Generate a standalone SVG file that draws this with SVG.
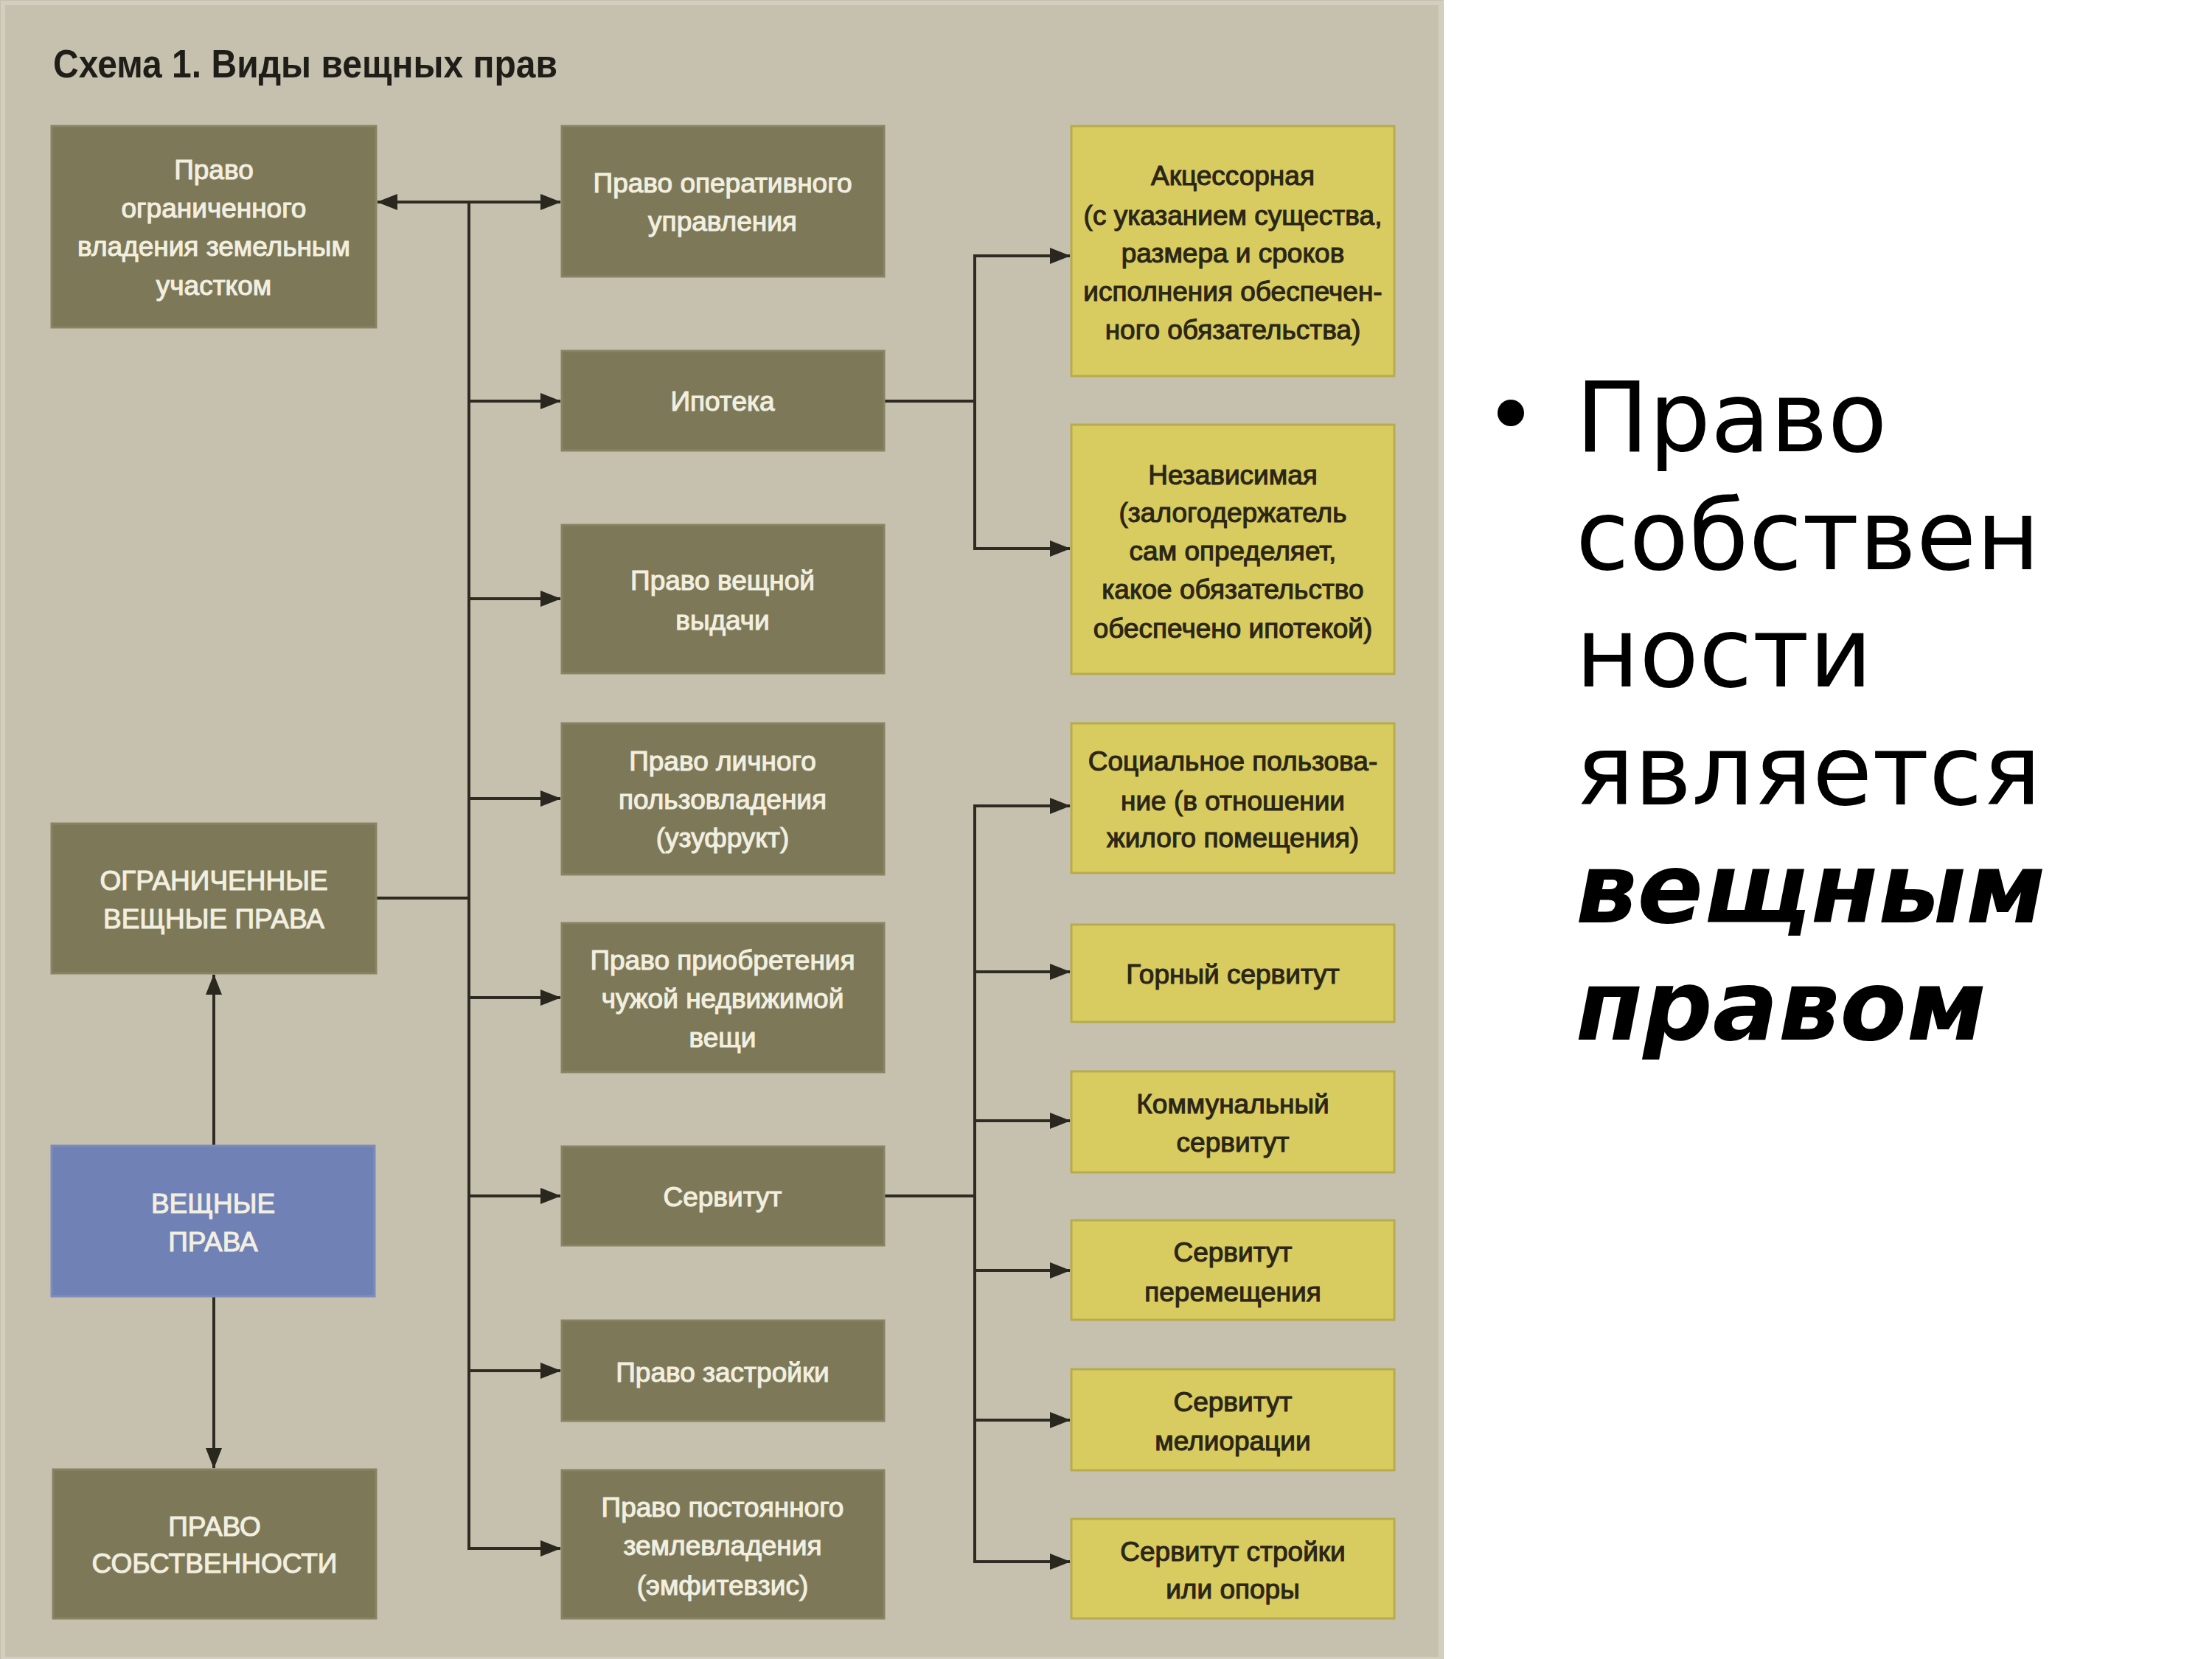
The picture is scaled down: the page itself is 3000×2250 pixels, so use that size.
<svg xmlns="http://www.w3.org/2000/svg" width="3000" height="2250" viewBox="0 0 3000 2250">
<defs>
<style>
.panel{fill:#c6c1ae}
.olive{fill:#7d7958;stroke:#888463;stroke-width:3}
.blue{fill:#7081b6;stroke:#7c8cbd;stroke-width:3}
.yellow{fill:#d8cc60;stroke:#b7ab4e;stroke-width:3}
.lt{font-family:"Liberation Sans",Arial,sans-serif;font-size:37px;fill:#f2efe0;stroke:#f2efe0;stroke-width:1.1;text-anchor:middle}
.dt{font-family:"Liberation Sans",Arial,sans-serif;font-size:37px;fill:#2b2616;stroke:#2b2616;stroke-width:1.1;text-anchor:middle}
.title{font-family:"Liberation Sans",Arial,sans-serif;font-size:54px;font-weight:bold;fill:#1e1d18}
.conn{fill:none;stroke:#2e2b22;stroke-width:4}
.big{font-family:"DejaVu Sans",sans-serif;font-size:132px;fill:#000}
.bigb{font-family:"DejaVu Sans",sans-serif;font-size:132px;fill:#000;font-weight:bold;font-style:italic}
</style>
<marker id="ah" markerUnits="userSpaceOnUse" markerWidth="28" markerHeight="22" refX="27" refY="11" orient="auto-start-reverse">
<path d="M0,0 L28,11 L0,22 z" fill="#2a271e"/>
</marker>
</defs>
<rect x="0" y="0" width="3000" height="2250" fill="#ffffff"/>
<rect class="panel" x="0" y="0" width="1958" height="2250"/>
<rect x="4" y="4" width="1950" height="2246" fill="none" stroke="#d3cfc0" stroke-width="6"/>
<text class="title" x="72" y="105" textLength="684" lengthAdjust="spacingAndGlyphs">Схема 1. Виды вещных прав</text>

<g id="connectors">
<line class="conn" x1="512" y1="274" x2="760" y2="274" marker-start="url(#ah)" marker-end="url(#ah)"/>
<line class="conn" x1="636" y1="274" x2="636" y2="2100"/>
<line class="conn" x1="636" y1="544" x2="760" y2="544" marker-end="url(#ah)"/>
<line class="conn" x1="636" y1="812" x2="760" y2="812" marker-end="url(#ah)"/>
<line class="conn" x1="636" y1="1083" x2="760" y2="1083" marker-end="url(#ah)"/>
<line class="conn" x1="636" y1="1353" x2="760" y2="1353" marker-end="url(#ah)"/>
<line class="conn" x1="636" y1="1622" x2="760" y2="1622" marker-end="url(#ah)"/>
<line class="conn" x1="636" y1="1859" x2="760" y2="1859" marker-end="url(#ah)"/>
<line class="conn" x1="634" y1="2100" x2="760" y2="2100" marker-end="url(#ah)"/>
<line class="conn" x1="510" y1="1218" x2="636" y2="1218"/>
<line class="conn" x1="290" y1="1554" x2="290" y2="1322" marker-end="url(#ah)"/>
<line class="conn" x1="290" y1="1758" x2="290" y2="1991" marker-end="url(#ah)"/>
<line class="conn" x1="1199" y1="544" x2="1322" y2="544"/>
<line class="conn" x1="1322" y1="347" x2="1322" y2="744"/>
<line class="conn" x1="1320" y1="347" x2="1451" y2="347" marker-end="url(#ah)"/>
<line class="conn" x1="1320" y1="744" x2="1451" y2="744" marker-end="url(#ah)"/>
<line class="conn" x1="1199" y1="1622" x2="1322" y2="1622"/>
<line class="conn" x1="1322" y1="1093" x2="1322" y2="2118"/>
<line class="conn" x1="1320" y1="1093" x2="1451" y2="1093" marker-end="url(#ah)"/>
<line class="conn" x1="1322" y1="1318" x2="1451" y2="1318" marker-end="url(#ah)"/>
<line class="conn" x1="1322" y1="1520" x2="1451" y2="1520" marker-end="url(#ah)"/>
<line class="conn" x1="1322" y1="1723" x2="1451" y2="1723" marker-end="url(#ah)"/>
<line class="conn" x1="1322" y1="1926" x2="1451" y2="1926" marker-end="url(#ah)"/>
<line class="conn" x1="1320" y1="2118" x2="1451" y2="2118" marker-end="url(#ah)"/>
</g>

<g id="n-ogr-vladenie">
<rect class="olive" x="70" y="171" width="440" height="273"/>
<text class="lt" x="290" y="243">Право</text>
<text class="lt" x="290" y="295">ограниченного</text>
<text class="lt" x="290" y="347">владения земельным</text>
<text class="lt" x="290" y="400">участком</text>
</g>
<g id="n-ogr-veshnye">
<rect class="olive" x="70" y="1117" width="440" height="203"/>
<text class="lt" x="290" y="1207">ОГРАНИЧЕННЫЕ</text>
<text class="lt" x="290" y="1259">ВЕЩНЫЕ ПРАВА</text>
</g>
<g id="n-veshnye">
<rect class="blue" x="70" y="1554" width="438" height="204"/>
<text class="lt" x="289" y="1645">ВЕЩНЫЕ</text>
<text class="lt" x="289" y="1697">ПРАВА</text>
</g>
<g id="n-sobstv">
<rect class="olive" x="72" y="1993" width="438" height="202"/>
<text class="lt" x="291" y="2083">ПРАВО</text>
<text class="lt" x="291" y="2133">СОБСТВЕННОСТИ</text>
</g>

<g id="n-operativ">
<rect class="olive" x="762" y="171" width="437" height="204"/>
<text class="lt" x="980" y="261">Право оперативного</text>
<text class="lt" x="980" y="313">управления</text>
</g>
<g id="n-ipoteka">
<rect class="olive" x="762" y="476" width="437" height="135"/>
<text class="lt" x="980" y="557">Ипотека</text>
</g>
<g id="n-vydacha">
<rect class="olive" x="762" y="712" width="437" height="201"/>
<text class="lt" x="980" y="800">Право вещной</text>
<text class="lt" x="980" y="854">выдачи</text>
</g>
<g id="n-uzufrukt">
<rect class="olive" x="762" y="981" width="437" height="205"/>
<text class="lt" x="980" y="1045">Право личного</text>
<text class="lt" x="980" y="1097">пользовладения</text>
<text class="lt" x="980" y="1149">(узуфрукт)</text>
</g>
<g id="n-priobr">
<rect class="olive" x="762" y="1252" width="437" height="202"/>
<text class="lt" x="980" y="1315">Право приобретения</text>
<text class="lt" x="980" y="1367">чужой недвижимой</text>
<text class="lt" x="980" y="1420">вещи</text>
</g>
<g id="n-servitut">
<rect class="olive" x="762" y="1555" width="437" height="134"/>
<text class="lt" x="980" y="1636">Сервитут</text>
</g>
<g id="n-zastroyka">
<rect class="olive" x="762" y="1791" width="437" height="136"/>
<text class="lt" x="980" y="1874">Право застройки</text>
</g>
<g id="n-emfitevzis">
<rect class="olive" x="762" y="1994" width="437" height="201"/>
<text class="lt" x="980" y="2057">Право постоянного</text>
<text class="lt" x="980" y="2109">землевладения</text>
<text class="lt" x="980" y="2163">(эмфитевзис)</text>
</g>

<g id="n-akcess">
<rect class="yellow" x="1453" y="171" width="438" height="339"/>
<text class="dt" x="1672" y="251">Акцессорная</text>
<text class="dt" x="1672" y="305">(с указанием существа,</text>
<text class="dt" x="1672" y="356">размера и сроков</text>
<text class="dt" x="1672" y="408">исполнения обеспечен-</text>
<text class="dt" x="1672" y="460">ного обязательства)</text>
</g>
<g id="n-nezavis">
<rect class="yellow" x="1453" y="576" width="438" height="338"/>
<text class="dt" x="1672" y="657">Независимая</text>
<text class="dt" x="1672" y="708">(залогодержатель</text>
<text class="dt" x="1672" y="760">сам определяет,</text>
<text class="dt" x="1672" y="812">какое обязательство</text>
<text class="dt" x="1672" y="865">обеспечено ипотекой)</text>
</g>
<g id="n-social">
<rect class="yellow" x="1453" y="981" width="438" height="203"/>
<text class="dt" x="1672" y="1045">Социальное пользова-</text>
<text class="dt" x="1672" y="1099">ние (в отношении</text>
<text class="dt" x="1672" y="1149">жилого помещения)</text>
</g>
<g id="n-gorny">
<rect class="yellow" x="1453" y="1254" width="438" height="132"/>
<text class="dt" x="1672" y="1334">Горный сервитут</text>
</g>
<g id="n-kommun">
<rect class="yellow" x="1453" y="1453" width="438" height="137"/>
<text class="dt" x="1672" y="1510">Коммунальный</text>
<text class="dt" x="1672" y="1562">сервитут</text>
</g>
<g id="n-peremesh">
<rect class="yellow" x="1453" y="1655" width="438" height="135"/>
<text class="dt" x="1672" y="1711">Сервитут</text>
<text class="dt" x="1672" y="1765">перемещения</text>
</g>
<g id="n-melior">
<rect class="yellow" x="1453" y="1857" width="438" height="137"/>
<text class="dt" x="1672" y="1914">Сервитут</text>
<text class="dt" x="1672" y="1967">мелиорации</text>
</g>
<g id="n-stroyki">
<rect class="yellow" x="1453" y="2060" width="438" height="135"/>
<text class="dt" x="1672" y="2117">Сервитут стройки</text>
<text class="dt" x="1672" y="2168">или опоры</text>
</g>

<g id="bullet-text">
<circle cx="2049" cy="560" r="18" fill="#000"/>
<text class="big" x="2137" y="612">Право</text>
<text class="big" x="2137" y="772">собствен</text>
<text class="big" x="2137" y="931">ности</text>
<text class="big" x="2137" y="1091">является</text>
<text class="bigb" x="2137" y="1251">вещным</text>
<text class="bigb" x="2137" y="1410">правом</text>
</g>
</svg>
